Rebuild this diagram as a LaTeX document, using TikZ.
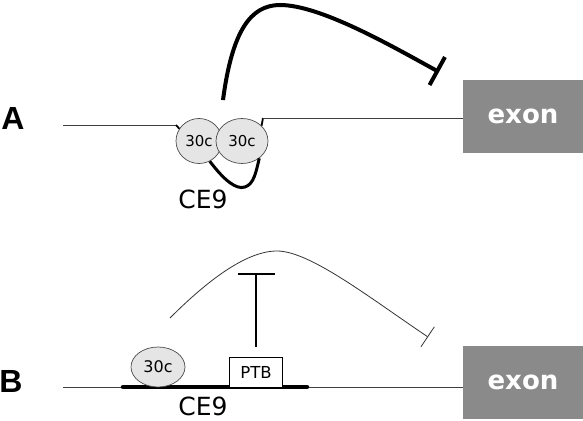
\documentclass[tikz,border=0pt]{standalone}
\usepackage{fontspec}
\setmainfont{DejaVu Sans}
\newfontfamily\panelfont{Liberation Sans}
\usetikzlibrary{shapes.geometric,arrows.meta}
\tikzset{
  dna/.style={line width=1pt, draw=black!75},
  bead/.style={ellipse, draw=black!70, fill=black!10, line width=0.7pt, inner sep=0pt, font=\fontsize{15}{15}\selectfont},
  exonbox/.style={fill=black!46, minimum width=120pt, minimum height=73pt, inner sep=0pt, text=white, font=\bfseries\fontsize{26}{26}\selectfont},
  panellabel/.style={font=\panelfont\bfseries\fontsize{32}{32}\selectfont, inner sep=0pt},
  celabel/.style={font=\fontsize{25}{25}\selectfont, inner sep=0pt},
  thickbar/.style={line width=4pt},
}
\begin{document}
\begin{tikzpicture}[x=1pt,y=-1pt]
\useasboundingbox (0,0) rectangle (583,420);
% ---------- Panel A ----------
\node[panellabel] (labA) at (13,118) {A};
\node[exonbox] (exA) at (523,116.5) {exon\hspace{10pt}};
\node[bead, minimum width=46pt, minimum height=45pt] (c1) at (199,141) {30c};
\node[bead, minimum width=52pt, minimum height=45pt] (c2) at (242,141) {30c};
\node[celabel] (ceA) at (203,199) {CE9};
\coordinate (lA0) at (63,125);
\coordinate (lA1) at (176,125);
\coordinate (rA1) at (263,118);
\draw[dna] (lA0) -- (lA1);
\draw[line width=1.8pt] (lA1) -- (c1.148);
\draw[line width=1.8pt] (c2.38) -- (rA1);
\draw[dna] (rA1) -- (rA1 -| exA.west);
\draw[line width=3pt] (c1.-62) .. controls (224,180) and (236,190) .. (245,187) .. controls (254,184) and (256,172) .. (c2.-45);
\coordinate (arcA0) at (223,100);
\coordinate (arcAtop) at (280,5);
\coordinate (arcA1) at (439,72);
\draw[thickbar, -{Bar[width=32pt,line width=4pt]}] (arcA0) .. controls (232,32) and (250,5) .. (arcAtop) .. controls (320,5) and (390,45) .. (arcA1);
% ---------- Panel B ----------
\node[panellabel] (labB) at (11,381) {B};
\node[exonbox] (exB) at (523,382.5) {exon\hspace{10pt}};
\coordinate (lB0) at (63,387);
\draw[dna] (lB0) -- (lB0 -| exB.west);
\coordinate (ceB0) at (123,387);
\coordinate (ceB1) at (307,387);
\draw[line width=4.5pt, line cap=round] (ceB0) -- (ceB1);
\node[bead, minimum width=54pt, minimum height=40pt, font=\fontsize{16}{16}\selectfont] (c3) at (158,367) {30c};
\node[draw, fill=white, line width=0.7pt, minimum width=53pt, minimum height=30pt, inner sep=0pt, font=\fontsize{16.5}{16.5}\selectfont] (ptb) at (256,372) {PTB};
\node[celabel] (ceB) at (203,406) {CE9};
\coordinate (tB) at (256,273);
\draw[line width=1.6pt, -{Bar[width=37pt,line width=1.6pt]}] ([yshift=10pt]ptb.north) -- (tB);
\coordinate (arcB0) at (170,318);
\coordinate (arcBtop) at (277,251);
\coordinate (arcB1) at (428,337);
\draw[line width=0.8pt, draw=black!80, -{Bar[width=24pt,line width=0.8pt]}] (arcB0) .. controls (205,283) and (245,251) .. (arcBtop) .. controls (310,251) and (370,298) .. (arcB1);
\end{tikzpicture}
\end{document}
